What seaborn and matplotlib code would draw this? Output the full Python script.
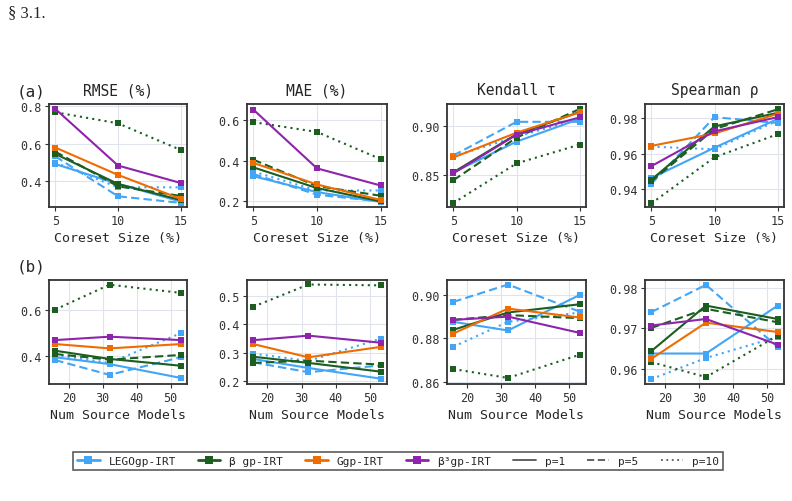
import seaborn as sns
import matplotlib.pyplot as plt
import matplotlib.lines as mlines
import pandas as pd

# ---- data ----
coreset = [5, 10, 15]
n_models = [16, 32, 53]

methods = ['LEGOgp-IRT', 'β gp-IRT', 'Ggp-IRT', 'β³gp-IRT']
ps = ['p=1', 'p=5', 'p=10']

# row (a): metric vs coreset size
rmse_a = {
    ('LEGOgp-IRT', 'p=1'): [0.492, 0.386, 0.292],
    ('LEGOgp-IRT', 'p=5'): [0.533, 0.320, 0.285],
    ('LEGOgp-IRT', 'p=10'): [0.500, 0.368, 0.368],
    ('β gp-IRT', 'p=1'): [0.546, 0.386, 0.300],
    ('β gp-IRT', 'p=5'): [0.558, 0.373, 0.322],
    ('β gp-IRT', 'p=10'): [0.768, 0.709, 0.567],
    ('Ggp-IRT', 'p=1'): [0.580, 0.434, 0.306],
    ('β³gp-IRT', 'p=1'): [0.786, 0.484, 0.391],
}
mae_a = {
    ('LEGOgp-IRT', 'p=1'): [0.323, 0.244, 0.195],
    ('LEGOgp-IRT', 'p=5'): [0.334, 0.231, 0.198],
    ('LEGOgp-IRT', 'p=10'): [0.346, 0.252, 0.252],
    ('β gp-IRT', 'p=1'): [0.367, 0.264, 0.198],
    ('β gp-IRT', 'p=5'): [0.405, 0.274, 0.226],
    ('β gp-IRT', 'p=10'): [0.592, 0.543, 0.408],
    ('Ggp-IRT', 'p=1'): [0.389, 0.282, 0.205],
    ('β³gp-IRT', 'p=1'): [0.654, 0.362, 0.277],
}
kendall_a = {
    ('LEGOgp-IRT', 'p=1'): [0.853, 0.884, 0.907],
    ('LEGOgp-IRT', 'p=5'): [0.870, 0.904, 0.904],
    ('LEGOgp-IRT', 'p=10'): [0.869, 0.889, 0.907],
    ('β gp-IRT', 'p=1'): [0.853, 0.8915, 0.914],
    ('β gp-IRT', 'p=5'): [0.845, 0.888, 0.917],
    ('β gp-IRT', 'p=10'): [0.822, 0.862, 0.881],
    ('Ggp-IRT', 'p=1'): [0.868, 0.893, 0.9135],
    ('β³gp-IRT', 'p=1'): [0.852, 0.891, 0.9085],
}
spearman_a = {
    ('LEGOgp-IRT', 'p=1'): [0.9463, 0.9634, 0.9796],
    ('LEGOgp-IRT', 'p=5'): [0.943, 0.9806, 0.9773],
    ('LEGOgp-IRT', 'p=10'): [0.964, 0.9625, 0.9787],
    ('β gp-IRT', 'p=1'): [0.9453, 0.9754, 0.983],
    ('β gp-IRT', 'p=5'): [0.9444, 0.9739, 0.985],
    ('β gp-IRT', 'p=10'): [0.932, 0.958, 0.971],
    ('Ggp-IRT', 'p=1'): [0.9644, 0.9714, 0.9825],
    ('β³gp-IRT', 'p=1'): [0.953, 0.9726, 0.9806],
}

# row (b): metric vs number of source models
rmse_b = {
    ('LEGOgp-IRT', 'p=1'): [0.396, 0.367, 0.308],
    ('LEGOgp-IRT', 'p=5'): [0.384, 0.321, 0.396],
    ('LEGOgp-IRT', 'p=10'): [0.406, 0.372, 0.499],
    ('β gp-IRT', 'p=1'): [0.424, 0.389, 0.360],
    ('β gp-IRT', 'p=5'): [0.410, 0.386, 0.406],
    ('β gp-IRT', 'p=10'): [0.600, 0.706, 0.671],
    ('Ggp-IRT', 'p=1'): [0.4525, 0.434, 0.4525],
    ('β³gp-IRT', 'p=1'): [0.4695, 0.484, 0.4695],
}
mae_b = {
    ('LEGOgp-IRT', 'p=1'): [0.277, 0.245, 0.207],
    ('LEGOgp-IRT', 'p=5'): [0.265, 0.230, 0.254],
    ('LEGOgp-IRT', 'p=10'): [0.296, 0.270, 0.349],
    ('β gp-IRT', 'p=1'): [0.285, 0.263, 0.232],
    ('β gp-IRT', 'p=5'): [0.263, 0.271, 0.257],
    ('β gp-IRT', 'p=10'): [0.463, 0.542, 0.539],
    ('Ggp-IRT', 'p=1'): [0.330, 0.283, 0.320],
    ('β³gp-IRT', 'p=1'): [0.344, 0.360, 0.335],
}
kendall_b = {
    ('LEGOgp-IRT', 'p=1'): [0.8876, 0.8836, 0.900],
    ('LEGOgp-IRT', 'p=5'): [0.8968, 0.9048, 0.8923],
    ('LEGOgp-IRT', 'p=10'): [0.8761, 0.8876, 0.8919],
    ('β gp-IRT', 'p=1'): [0.8839, 0.8919, 0.8957],
    ('β gp-IRT', 'p=5'): [0.8885, 0.8907, 0.8893],
    ('β gp-IRT', 'p=10'): [0.8658, 0.8617, 0.8724],
    ('Ggp-IRT', 'p=1'): [0.8822, 0.8937, 0.8896],
    ('β³gp-IRT', 'p=1'): [0.8885, 0.890, 0.8825],
}
spearman_b = {
    ('LEGOgp-IRT', 'p=1'): [0.9638, 0.9638, 0.9756],
    ('LEGOgp-IRT', 'p=5'): [0.974, 0.9807, 0.9654],
    ('LEGOgp-IRT', 'p=10'): [0.9575, 0.9627, 0.9679],
    ('β gp-IRT', 'p=1'): [0.9644, 0.9756, 0.9723],
    ('β gp-IRT', 'p=5'): [0.9701, 0.9748, 0.9715],
    ('β gp-IRT', 'p=10'): [0.9617, 0.958, 0.9682],
    ('Ggp-IRT', 'p=1'): [0.9625, 0.9714, 0.9691],
    ('β³gp-IRT', 'p=1'): [0.9707, 0.9723, 0.966],
}

titles = ['RMSE (%)', 'MAE (%)', 'Kendall τ', 'Spearman ρ']
colors = {'LEGOgp-IRT': '#42A5F5', 'β gp-IRT': '#1B5E20',
          'Ggp-IRT': '#EF6C00', 'β³gp-IRT': '#8E24AA'}
dashes = {'p=1': '', 'p=5': (4, 2), 'p=10': (1, 2)}
markers = {'p=1': 's', 'p=5': 's', 'p=10': 's'}


def to_df(d, xs):
    rows = []
    for (m, p), vals in d.items():
        for x, v in zip(xs, vals):
            rows.append({'x': x, 'y': v, 'method': m, 'p': p})
    return pd.DataFrame(rows)


sns.set_theme(style='whitegrid')
plt.rcParams['font.family'] = ['DejaVu Sans Mono', 'DejaVu Sans']
plt.rcParams['axes.edgecolor'] = '#333333'
plt.rcParams['axes.linewidth'] = 1.3
plt.rcParams['grid.color'] = '#dfe4ec'
plt.rcParams['grid.linewidth'] = 0.8

fig = plt.figure(figsize=(7.92, 5.02), dpi=100)
W, H = 792.0, 502.0
lefts = [49, 247, 447, 645]
widths = [138, 140, 139, 139]


def make_ax(col, top, bottom):
    return fig.add_axes([lefts[col] / W, 1 - bottom / H, widths[col] / W, (bottom - top) / H])


row_a = [rmse_a, mae_a, kendall_a, spearman_a]
row_b = [rmse_b, mae_b, kendall_b, spearman_b]
ylims_a = [(0.263, 0.812), (0.170, 0.682), (0.818, 0.922), (0.930, 0.988)]
ylims_b = [(0.282, 0.726), (0.188, 0.558), (0.8589, 0.9069), (0.9563, 0.9819)]
yticks_a = [[0.4, 0.6, 0.8], [0.2, 0.4, 0.6], [0.85, 0.90], [0.94, 0.96, 0.98]]
yticks_b = [[0.4, 0.6], [0.2, 0.3, 0.4, 0.5], [0.86, 0.88, 0.90], [0.96, 0.97, 0.98]]
yfmt = ['{:.1f}', '{:.1f}', '{:.2f}', '{:.2f}']

for row, (data, xs, ylims, yticks, top, bottom, xlab, xt) in enumerate([
        (row_a, coreset, ylims_a, yticks_a, 105, 208, 'Coreset Size (%)', [5, 10, 15]),
        (row_b, n_models, ylims_b, yticks_b, 281, 385, 'Num Source Models', [20, 30, 40, 50])]):
    for col in range(4):
        ax = make_ax(col, top, bottom)
        df = to_df(data[col], xs)
        sns.lineplot(data=df, x='x', y='y', hue='method', style='p',
                     hue_order=methods, style_order=ps, palette=colors,
                     dashes=dashes, markers=markers, markersize=5,
                     markeredgewidth=0, linewidth=1.5, legend=False, ax=ax)
        ax.set_ylim(*ylims[col])
        ax.set_yticks(yticks[col])
        ax.set_yticklabels([yfmt[col].format(t) for t in yticks[col]])
        ax.set_xticks(xt)
        ax.set_xlabel(xlab, fontsize=9.5, labelpad=3)
        ax.set_ylabel('')
        ax.tick_params(axis='both', labelsize=8.5, length=3, width=0.8,
                       colors='#333333', left=True, bottom=True, pad=2)
        if row == 0:
            ax.set_title(titles[col], fontsize=10.5, pad=7)

fig.text(17 / W, 1 - 92 / H, '(a)', fontsize=11.5, va='center', ha='left')
fig.text(17 / W, 1 - 267 / H, '(b)', fontsize=11.5, va='center', ha='left')
fig.text(8 / W, 1 - 13 / H, '§ 3.1.', fontsize=12, va='center', ha='left',
         family=['Liberation Serif', 'DejaVu Serif'])

handles = [mlines.Line2D([], [], color=colors[m], marker='s', markersize=6,
                         linewidth=2, markeredgewidth=0) for m in methods]
handles += [mlines.Line2D([], [], color='#555555', linewidth=1.3, linestyle=ls)
            for ls in ['-', (0, (4, 2)), (0, (1, 2))]]
labels = methods + ps
leg = fig.legend(handles, labels, loc='center', ncol=7,
                 bbox_to_anchor=(398 / W, 1 - 462 / H), fontsize=8,
                 frameon=True, fancybox=False, handlelength=2.0,
                 columnspacing=2.0, handletextpad=0.8, borderpad=0.35)
leg.get_frame().set_edgecolor('#333333')
leg.get_frame().set_linewidth(1.2)

fig.savefig('out.png', dpi=100)
